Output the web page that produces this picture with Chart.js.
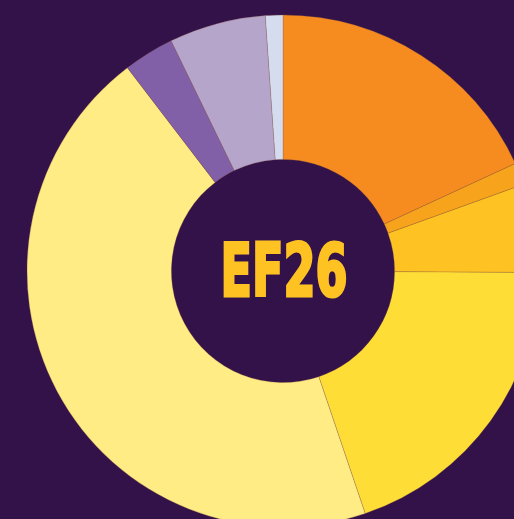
<!DOCTYPE html>
<html>
<head>
<meta charset="utf-8">
<script src="https://cdn.jsdelivr.net/npm/chart.js@4"></script>
<style>
  html, body { margin: 0; padding: 0; background: #33124a; overflow: hidden; }
  #wrap { position: absolute; left: 0; top: 0; width: 566px; height: 542px; }
</style>
</head>
<body>
<div id="wrap"><canvas id="ef26" width="566" height="542"></canvas></div>
<script>
// Segment shares (percent of the ring), clockwise from 12 o'clock
const labels = ['A', 'B', 'C', 'D', 'E', 'F', 'G', 'H'];
const values = [18.1, 1.4, 5.6, 19.7, 44.8, 3.2, 6.1, 1.1];
const colors = ['#f68b1f', '#f7a31b', '#fec222', '#ffdd37', '#ffec84', '#8260a8', '#b6a5ca', '#d6dcf0'];
const centerText = 'EF26';

// Draws the label in the hole (stroked too, to get the heavy look)
const centerLabel = {
    id: 'centerLabel',
    afterDraw(chart) {
        const ctx = chart.ctx;
        const meta = chart.getDatasetMeta(0).data[0];
        ctx.save();
        ctx.font = 'bold 73px "DejaVu Sans Condensed", "Liberation Sans Narrow", sans-serif';
        ctx.fillStyle = '#fec222';
        ctx.strokeStyle = '#fec222';
        ctx.lineJoin = 'miter';
        ctx.textAlign = 'center';
        ctx.textBaseline = 'alphabetic';
        const w = ctx.measureText(centerText).width;
        const sx = 127 / w;
        ctx.translate(meta.x + 1, 296);
        ctx.scale(sx, 1);
        ctx.lineWidth = 3;
        ctx.fillText(centerText, 0, 0);
        ctx.strokeText(centerText, 0, 0);
        ctx.restore();
    }
};

new Chart(document.getElementById('ef26'), {
    type: 'doughnut',
    data: {
        labels: labels,
        datasets: [{
            data: values,
            backgroundColor: colors,
            borderColor: 'rgba(140, 90, 60, 0.45)',
            borderWidth: 0.6
        }]
    },
    options: {
        responsive: false,
        animation: false,
        radius: 256,
        cutout: '43.6%',
        plugins: {
            legend: { display: false },
            tooltip: { enabled: false }
        }
    },
    plugins: [centerLabel]
});
</script>
</body>
</html>
